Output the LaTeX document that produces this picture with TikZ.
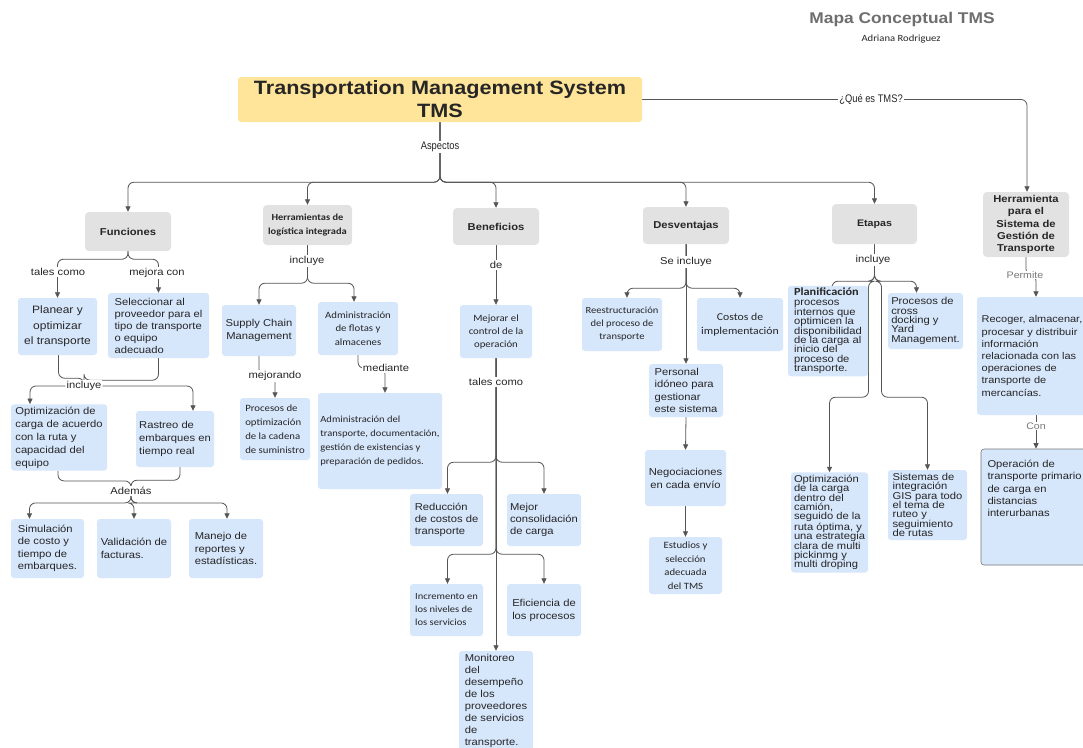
\documentclass[tikz,border=0pt]{standalone}
\usepackage{fontspec}
\usetikzlibrary{arrows.meta}
\newfontfamily\fAr[FakeStretch=1.12]{Liberation Sans}
\newfontfamily\fCal[FakeStretch=1.12]{Carlito}
\newfontfamily\fArN[FakeStretch=0.85]{Liberation Sans}
\definecolor{bluF}{RGB}{214,230,251}
\definecolor{catF}{RGB}{226,226,226}
\definecolor{ttlF}{RGB}{255,229,153}
\definecolor{lnC}{RGB}{85,85,85}
\definecolor{txtC}{RGB}{38,38,38}
\definecolor{hdC}{RGB}{110,110,110}
\definecolor{lblG}{RGB}{120,120,120}
\pgfdeclarelayer{bg}
\pgfsetlayers{bg,main}
% box from corner (x1,y1) to corner (x2,y2), y growing downwards
\newcommand\bx[7]{\node[#1, minimum width={#5-#3}, minimum height={#6-#4}] (#2) at ({(#3+#5)/2},{(#4+#6)/2}) {#7};}
\tikzset{
  base/.style={inner sep=2.5pt, text=txtC},
  blu/.style={base, fill=bluF, rounded corners=3pt, align=left, font=\fAr\fontsize{10}{12.5}\selectfont},
  bluc/.style={blu, align=center},
  cal/.style={blu, font=\fCal\fontsize{9.6}{13.5}\selectfont},
  calc/.style={cal, align=center},
  tight/.style={blu, font=\fAr\fontsize{10}{9.4}\selectfont},
  cat/.style={base, fill=catF, rounded corners=4pt, align=center, font=\fAr\bfseries\fontsize{10}{12.3}\selectfont},
  lbl/.style={fill=white, inner sep=1pt, text=txtC, font=\fAr\fontsize{10}{12}\selectfont},
  glbl/.style={lbl, text=lblG, font=\fAr\fontsize{9.5}{11}\selectfont},
  nlbl/.style={lbl, font=\fArN\fontsize{11}{12}\selectfont},
  conn/.style={draw=lnC, line width=0.8pt, rounded corners=6pt},
  arr/.style={conn, -{Triangle[width=5pt,length=5.5pt]}},
}
\begin{document}
\begin{tikzpicture}[x=1pt,y=-1pt]
\useasboundingbox (0,0) rectangle (1083,747);

% header
\node[text=hdC, font=\fAr\bfseries\fontsize{15.5}{18}\selectfont] (hd) at (902,19) {Mapa Conceptual TMS};
\node[text=txtC, font=\fCal\fontsize{9.5}{11}\selectfont] (au) at (901,39) {Adriana Rodriguez};

% central topic
\bx{base, fill=ttlF, rounded corners=3pt, align=center, font=\fAr\bfseries\fontsize{19.3}{23}\selectfont}{tms}{238}{77}{642}{122}{Transportation Management System\\TMS}

% aspects
\bx{cat}{fun}{85}{212}{171}{251}{Funciones}
\bx{cat, font=\fCal\bfseries\fontsize{9.3}{14}\selectfont}{her}{263}{205}{352}{245}{Herramientas de\\logística integrada}
\bx{cat}{ben}{453}{208}{539}{245}{Beneficios}
\bx{cat}{des}{643}{207}{729}{244}{Desventajas}
\bx{cat, font=\fAr\bfseries\fontsize{9.5}{12}\selectfont}{eta}{832}{204}{917}{244}{Etapas}
\bx{cat}{hst}{983}{192}{1069}{257}{Herramienta\\para el\\Sistema de\\Gestión de\\Transporte}

% Funciones
\bx{bluc, font=\fAr\fontsize{10.7}{15.5}\selectfont}{pl}{18}{298}{97}{355}{Planear y\\optimizar\\el transporte}
\bx{blu, font=\fAr\fontsize{10}{12}\selectfont}{sel}{108}{293}{209}{358}{Seleccionar al\\proveedor para el\\tipo de transporte\\o equipo\\adecuado}
\bx{blu, font=\fAr\fontsize{10}{13}\selectfont}{opt}{11}{405}{107}{470}{Optimización de\\carga de acuerdo\\con la ruta y\\capacidad del\\equipo}
\bx{blu, font=\fAr\fontsize{10}{13}\selectfont}{ras}{136}{411}{214}{467}{Rastreo de\\embarques en\\tiempo real}
\bx{blu}{sim}{11}{519}{84}{578}{Simulación\\de costo y\\tiempo de\\embarques.}
\bx{blu}{val}{97}{519}{171}{578}{Validación de\\facturas.}
\bx{blu}{man}{189}{519}{263}{578}{Manejo de\\reportes y\\estadísticas.}

% Herramientas de logística integrada
\bx{bluc}{scm}{222}{305}{296}{356}{Supply Chain\\Management}
\bx{calc}{adf}{318}{302}{398}{355}{Administración\\de flotas y\\almacenes}
\bx{cal, font=\fCal\fontsize{9.6}{14}\selectfont}{pro}{240}{398}{310}{460}{Procesos de\\optimización\\de la cadena\\de suministro}
\bx{cal, inner xsep=2pt, font=\fCal\fontsize{9.4}{14}\selectfont}{adt}{318}{393}{442}{489}{Administración del\\transporte, documentación,\\gestión de existencias y\\preparación de pedidos.}

% Beneficios
\bx{calc, font=\fCal\fontsize{9.6}{13}\selectfont}{mej}{460}{305}{532}{358}{Mejorar el\\control de la\\operación}
\bx{blu, font=\fAr\fontsize{10}{12}\selectfont}{red}{410}{494}{483}{546}{Reducción\\de costos de\\transporte}
\bx{blu, font=\fAr\fontsize{10}{12}\selectfont}{con}{507}{494}{581}{546}{Mejor\\consolidación\\de carga}
\bx{cal, font=\fCal\fontsize{9.4}{13}\selectfont}{inc}{410}{584}{483}{636}{Incremento en\\los niveles de\\los servicios}
\bx{blu, font=\fAr\fontsize{10}{13}\selectfont}{efi}{507}{584}{581}{636}{Eficiencia de\\los procesos}
\bx{blu, font=\fAr\fontsize{10}{12}\selectfont}{mon}{459}{651}{533}{750}{Monitoreo\\del\\desempeño\\de los\\proveedores\\de servicios\\de\\transporte.}

% Desventajas
\bx{calc, font=\fCal\fontsize{9.4}{13}\selectfont}{ree}{582}{298}{662}{351}{Reestructuración\\del proceso de\\transporte}
\bx{calc, font=\fCal\fontsize{10.5}{14}\selectfont}{cos}{697}{298}{783}{351}{Costos de\\implementación}
\bx{blu}{per}{649}{364}{723}{417}{Personal\\idóneo para\\gestionar\\este sistema}
\bx{bluc, font=\fAr\fontsize{10}{13}\selectfont}{neg}{645}{450}{726}{506}{Negociaciones\\en cada envío}
\bx{calc, font=\fCal\fontsize{9.6}{13.5}\selectfont}{est}{649}{537}{722}{594}{Estudios y\\selección\\adecuada\\del TMS}

% Etapas
\bx{tight, inner xsep=2pt}{plf}{788}{286}{868}{376}{{\fCal\bfseries\fontsize{11}{11}\selectfont Planificación}\\[0.5pt]procesos\\internos que\\optimicen la\\disponibilidad\\de la carga al\\inicio del\\proceso de\\transporte.}
\bx{tight, inner xsep=2pt}{crd}{888}{293}{963}{349}{Procesos de\\cross\\docking y\\Yard\\Management.}
\bx{tight}{opc}{791}{473}{868}{572}{Optimización\\de la carga\\dentro del\\camión,\\seguido de la\\ruta óptima, y\\una estrategia\\clara de multi\\pickinmg y\\multi droping}
\bx{tight}{sis}{888}{470}{967}{540}{Sistemas de\\integración\\GIS para todo\\el tema de\\ruteo y\\seguimiento\\de rutas}

% right column
\bx{blu, inner xsep=2pt, font=\fAr\fontsize{9.8}{12.2}\selectfont}{rec}{977}{297}{1087}{415}{Recoger, almacenar,\\procesar y distribuir\\información\\relacionada con las\\operaciones de\\transporte de\\mercancías.}
\bx{blu, draw=lblG, line width=0.6pt, font=\fAr\fontsize{10}{12.3}\selectfont}{ope}{981}{449}{1088}{565}{Operación de\\transporte primario\\de carga en\\distancias\\interurbanas\\~\\~\\~}

% connector labels
\node[nlbl] (lasp) at (440,147) {Aspectos};
\node[nlbl] (lque) at (871,99) {¿Qué es TMS?};
\node[lbl] (ltal) at (58,272) {tales como};
\node[lbl] (lmej) at (157,273) {mejora con};
\node[lbl] (linc) at (84,386) {incluye};
\node[lbl] (lade) at (131,491) {Además};
\node[lbl] (linh) at (307,261) {incluye};
\node[lbl] (lmjr) at (275,376) {mejorando};
\node[lbl] (lmed) at (386,368) {mediante};
\node[lbl] (lde) at (496,265) {de};
\node[lbl] (ltc) at (496,382) {tales como};
\node[lbl] (lsei) at (686,262) {Se incluye};
\node[lbl] (liné) at (873,260) {incluye};
\node[glbl] (lper) at (1025,275) {Permite};
\node[glbl] (lcon) at (1036,426) {Con};

\begin{pgfonlayer}{bg}
\fill[white] (0,0) rectangle (1083,747);
% central topic
\draw[arr] (tms.east) -| ([xshift=1pt]hst.north);
\foreach \c in {fun,her,ben,des,eta}
  \draw[arr] (tms.south) -- ++(0,60) -| (\c.north);
% Funciones
\draw[arr] (fun.south) -- ++(0,8) -| (pl.north);
\draw[arr] (fun.south) -- ++(0,8) -| (sel.north);
\draw[conn] ([xshift=1pt]pl.south) -- ++(0,23) -| (linc.north);
\draw[conn] (sel.south) -- ++(0,22) -| (linc.north);
\draw[arr] (linc.west) -| ([xshift=-29pt]opt.north);
\draw[arr] (linc.east) -| ([xshift=18pt]ras.north);
\draw[conn] ([xshift=-1pt]opt.south) -- ++(0,10) -| (lade.north);
\draw[conn] ([xshift=5pt]ras.south) -- ++(0,13) -| (lade.north);
\draw[arr] (lade.south) -- ++(0,7) -| ([xshift=-18pt]sim.north);
\draw[arr] (lade.south) -- ++(0,7) -| (val.north);
\draw[arr] (lade.south) -- ++(0,7) -| ([xshift=1pt]man.north);
% Herramientas de logistica
\draw[arr] (her.south) -- ++(0,38) -| (scm.north);
\draw[arr] (her.south) -- ++(0,38) -| ([xshift=-4pt]adf.north);
\draw[arr] (scm.south) -- ++(0,19) -| (pro.north);
\draw[arr] (adf.south) -- ++(0,13) -| ([xshift=5pt]adt.north);
% Beneficios
\draw[arr] (ben.south) -- (mej.north);
\draw[arr] (mej.south) -- (mon.north);
\draw[arr] (mej.south) -- ++(0,104) -| ([xshift=1pt]red.north);
\draw[arr] (mej.south) -- ++(0,104) -| (con.north);
\draw[arr] (mej.south) -- ++(0,196) -| ([xshift=1pt]inc.north);
\draw[arr] (mej.south) -- ++(0,196) -| (efi.north);
% Desventajas
\draw[arr] (des.south) -- ++(0,44) -| ([xshift=5pt]ree.north);
\draw[arr] (des.south) -- ++(0,44) -| (cos.north);
\draw[arr] (des.south) -- (per.north);
\draw[arr] (per.south) -- (neg.north);
\draw[arr] (neg.south) -- (est.north);
% Etapas
\draw[arr] (eta.south) -- ++(0,37) -| ([xshift=4pt]plf.north);
\draw[arr] (eta.south) -- ++(0,37) -| ([xshift=-9pt]crd.north);
\draw[arr] (eta.south) |- ++(-6,37) -- ++(0,116) -| (opc.north);
\draw[arr] (eta.south) |- ++(7,37) -- ++(0,116) -| (sis.north);
% right column
\draw[arr] (hst.south) -- ++(0,18) -| ([xshift=4pt]rec.north);
\draw[arr] ([xshift=4pt]rec.south) -- ([xshift=1.5pt]ope.north);
\end{pgfonlayer}
\end{tikzpicture}
\end{document}
